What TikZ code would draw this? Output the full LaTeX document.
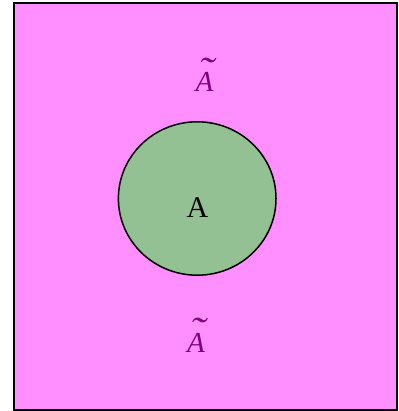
\documentclass[tikz,border=0pt]{standalone}
\usepackage{fontspec}
\setmainfont{Liberation Serif}
\definecolor{bgpink}{HTML}{FF8EFF}
\definecolor{setgreen}{HTML}{93C193}
\definecolor{labpurple}{HTML}{800080}
\newcommand{\mytildeA}{\ooalign{A\cr\hidewidth\raisebox{0.3em}{\kern0.1em\scalebox{1.6}[1.3]{\char"02DC}}\hidewidth\cr}}
\begin{document}
\begin{tikzpicture}[x=1pt,y=-1pt,
  universe/.style={draw=black,fill=bgpink,line width=1.6pt},
  setA/.style={draw=black,fill=setgreen,line width=1.5pt},
  complab/.style={text=labpurple,font=\fontsize{29}{31}\selectfont\itshape,inner sep=0pt,anchor=base},
  setlab/.style={text=black,font=\fontsize{30}{32}\selectfont,inner sep=0pt,anchor=base}]
\useasboundingbox (0,0) rectangle (398,411);
\path[universe] (14,3) rectangle (397,410);
\path[setA] (197.2,198.5) ellipse [x radius=78.8, y radius=76.7];
\node[setlab] (a) at (197.5,218) {A};
\node[complab] (ctop) at (204.5,92) {\mytildeA};
\node[complab] (cbot) at (196,352) {\mytildeA};
\end{tikzpicture}
\end{document}
